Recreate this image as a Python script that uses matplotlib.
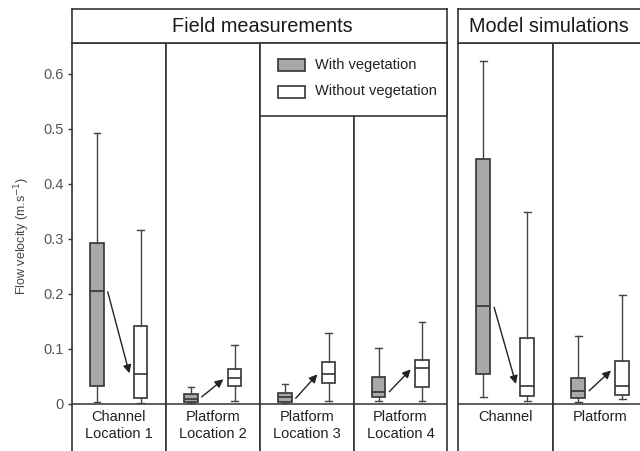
import matplotlib
matplotlib.use("Agg")
import matplotlib.pyplot as plt
from matplotlib.patches import Rectangle

plt.rcParams['font.family'] = ['Liberation Sans', 'DejaVu Sans']

# ---------------- data ----------------
field_labels = ["Channel\nLocation 1", "Platform\nLocation 2", "Platform\nLocation 3", "Platform\nLocation 4"]
model_labels = ["Channel", "Platform"]

# stats: whislo, q1, med, q3, whishi
veg_field = [
    [0.002, 0.031, 0.2045, 0.291, 0.492],
    [0.001, 0.003, 0.009, 0.017, 0.030],
    [0.001, 0.002, 0.011, 0.020, 0.035],
    [0.004, 0.011, 0.021, 0.049, 0.101],
]
noveg_field = [
    [0.0015, 0.0095, 0.054, 0.141, 0.316],
    [0.005, 0.031, 0.046, 0.063, 0.106],
    [0.005, 0.038, 0.054, 0.075, 0.128],
    [0.005, 0.030, 0.064, 0.079, 0.149],
]
veg_model = [
    [0.011, 0.054, 0.178, 0.444, 0.623],
    [0.003, 0.0095, 0.023, 0.046, 0.122],
]
noveg_model = [
    [0.0045, 0.014, 0.032, 0.120, 0.349],
    [0.0076, 0.016, 0.031, 0.077, 0.198],
]
arrow_from_field = [0.203, 0.012, 0.0095, 0.0215]
arrow_to_field = [0.055, 0.044, 0.053, 0.062]
arrow_from_model = [0.175, 0.023]
arrow_to_model = [0.0355, 0.060]

yticks = [0, 0.1, 0.2, 0.3, 0.4, 0.5, 0.6]
ytick_labels = ["0", "0.1", "0.2", "0.3", "0.4", "0.5", "0.6"]

header_field = "Field measurements"
header_model = "Model simulations"
legend_labels = ["With vegetation", "Without vegetation"]
ylabel = "Flow velocity (m.s$^{-1}$)"

# ---------------- layout ----------------
W, H = 640, 451
fig = plt.figure(figsize=(W / 100, H / 100), dpi=100)

def rect(x0, y0, x1, y1):
    return [x0 / W, 1 - y1 / H, (x1 - x0) / W, (y1 - y0) / H]

EDGE = '#333333'
GRAY = '#a8a8a8'
YLIM = (-(451 - 403.5) / 550, (403.5 - 43) / 550)
POS = [0.265, 0.73]
BW = 0.145

def stats(s):
    return dict(whislo=s[0], q1=s[1], med=s[2], q3=s[3], whishi=s[4], fliers=[])

def panel(x0, x1, veg, noveg, label, a_from, a_to, first=False):
    ax = fig.add_axes(rect(x0, 43, x1, 451))
    ax.set_xlim(0, 1)
    ax.set_ylim(*YLIM)
    for sp in ax.spines.values():
        sp.set_color(EDGE)
        sp.set_linewidth(1.2)
    ax.spines['bottom'].set_visible(False)
    ax.axhline(0, color=EDGE, lw=1.1, zorder=1)
    ax.set_xticks([])
    for s, pos, fc in [(veg, POS[0], GRAY), (noveg, POS[1], 'white')]:
        ax.bxp([stats(s)], positions=[pos], widths=BW, patch_artist=True,
               showfliers=False,
               boxprops=dict(facecolor=fc, edgecolor=EDGE, linewidth=1.2),
               medianprops=dict(color=EDGE, linewidth=1.2),
               whiskerprops=dict(color='#444444', linewidth=1.0),
               capprops=dict(color='#444444', linewidth=1.0))
    ax.set_xlim(0, 1)
    ax.set_xticks([])
    ax.annotate('', xy=(POS[1] - 0.12, a_to), xytext=(POS[0] + 0.115, a_from),
                arrowprops=dict(arrowstyle='-|>', color='#222222', lw=1.0,
                                mutation_scale=12, shrinkA=0, shrinkB=0))
    ax.text(0.5, -0.011, label, ha='center', va='top', fontsize=10.5,
            color='#222222', linespacing=1.3)
    if first:
        ax.set_yticks(yticks)
        ax.set_yticklabels(ytick_labels)
        ax.tick_params(axis='y', length=3, width=1, color=EDGE, pad=3,
                       labelsize=10.5, labelcolor='#555555')
        ax.set_ylabel(ylabel, fontsize=9, color='#444444')
        ax.yaxis.set_label_coords(-0.43, 0.527)
    else:
        ax.set_yticks([])
    return ax

fx = [72, 166, 260, 354, 447]
for i in range(4):
    panel(fx[i], fx[i + 1], veg_field[i], noveg_field[i], field_labels[i],
          arrow_from_field[i], arrow_to_field[i], first=(i == 0))

mx = [458, 553, 648]
for i in range(2):
    panel(mx[i], mx[i + 1], veg_model[i], noveg_model[i], model_labels[i],
          arrow_from_model[i], arrow_to_model[i])

# headers
for (x0, x1, txt, cx) in [(72, 447, header_field, 262), (458, 652, header_model, 549)]:
    hx = fig.add_axes(rect(x0, 9, x1, 43))
    hx.set_xticks([]); hx.set_yticks([])
    for sp in hx.spines.values():
        sp.set_color(EDGE)
        sp.set_linewidth(1.2)
    fig.text(cx / W, 1 - 26.5 / H, txt, ha='center', va='center',
             fontsize=14.3, color='#1a1a1a')

# legend box
fig.patches.append(Rectangle((260 / W, 1 - 116 / H), (447 - 260) / W, (116 - 43) / H,
                             transform=fig.transFigure, facecolor='white',
                             edgecolor=EDGE, linewidth=1.2, zorder=5))
for (y0, fc, lab) in [(58.5, GRAY, legend_labels[0]), (85.5, 'white', legend_labels[1])]:
    fig.patches.append(Rectangle((278 / W, 1 - (y0 + 12) / H), 27 / W, 12 / H,
                                 transform=fig.transFigure, facecolor=fc,
                                 edgecolor=EDGE, linewidth=1.2, zorder=6))
    fig.text(315 / W, 1 - (y0 + 6) / H, lab, ha='left', va='center',
             fontsize=10.5, color='#222222', zorder=7)

fig.savefig("out.png", dpi=100)
